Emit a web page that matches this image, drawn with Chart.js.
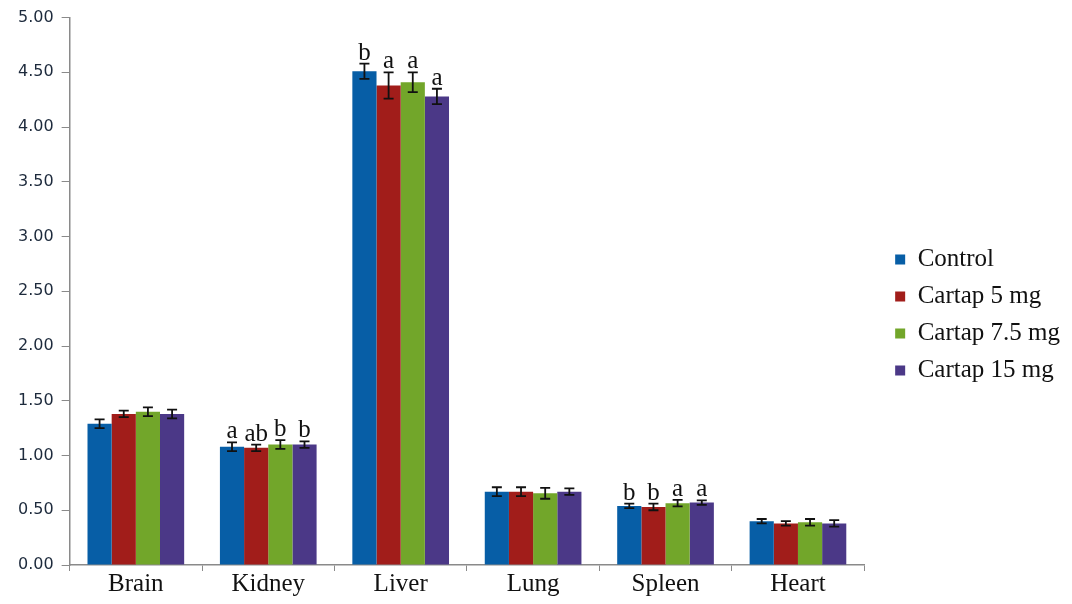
<!DOCTYPE html>
<html>
<head>
<meta charset="utf-8">
<script src="https://cdn.jsdelivr.net/npm/chart.js@4.4.1/dist/chart.umd.min.js"></script>
<style>
  html, body { margin: 0; padding: 0; background: #fff; }
  #wrap { width: 1072px; height: 604px; position: relative; }
</style>
</head>
<body>
<div id="wrap"><canvas id="organChart"></canvas></div>
<script>
// Organ weights by group
const organs = ['Brain', 'Kidney', 'Liver', 'Lung', 'Spleen', 'Heart'];
const groupNames = ['Control', 'Cartap 5 mg', 'Cartap 7.5 mg', 'Cartap 15 mg'];
const groupColors = ['#075ea6', '#a11d1a', '#72a62a', '#4b3887'];

const controlVals = [1.29, 1.08, 4.51, 0.67, 0.54, 0.40];
const cartap5Vals = [1.38, 1.07, 4.38, 0.67, 0.53, 0.38];
const cartap75Vals = [1.40, 1.10, 4.41, 0.655, 0.565, 0.39];
const cartap15Vals = [1.38, 1.10, 4.28, 0.67, 0.57, 0.38];

const controlErr = [0.04, 0.04, 0.07, 0.04, 0.02, 0.02];
const cartap5Err = [0.03, 0.03, 0.12, 0.04, 0.03, 0.02];
const cartap75Err = [0.04, 0.04, 0.09, 0.05, 0.03, 0.03];
const cartap15Err = [0.04, 0.03, 0.07, 0.03, 0.02, 0.03];

// significance letters (empty = none)
const controlSig = ['', 'a', 'b', '', 'b', ''];
const cartap5Sig = ['', 'ab', 'a', '', 'b', ''];
const cartap75Sig = ['', 'b', 'a', '', 'a', ''];
const cartap15Sig = ['', 'b', 'a', '', 'a', ''];

const yTicks = [0, 0.5, 1, 1.5, 2, 2.5, 3, 3.5, 4, 4.5, 5];

const allVals = [controlVals, cartap5Vals, cartap75Vals, cartap15Vals];
const allErr = [controlErr, cartap5Err, cartap75Err, cartap15Err];
const allSig = [controlSig, cartap5Sig, cartap75Sig, cartap15Sig];

const serif = '"Liberation Serif", "DejaVu Serif", serif';

// Error bars + letters
const errorBarPlugin = {
    id: 'errorBars',
    afterDatasetsDraw(chart) {
        const ctx = chart.ctx;
        const y = chart.scales.y;
        ctx.save();
        chart.data.datasets.forEach((ds, di) => {
            const meta = chart.getDatasetMeta(di);
            meta.data.forEach((bar, i) => {
                const v = ds.data[i];
                const e = allErr[di][i];
                const top = y.getPixelForValue(v + e);
                const bot = y.getPixelForValue(v - e);
                const x = bar.x;
                ctx.strokeStyle = '#111';
                ctx.lineWidth = 1.8;
                ctx.beginPath();
                ctx.moveTo(x, top); ctx.lineTo(x, bot);
                ctx.moveTo(x - 5, top); ctx.lineTo(x + 5, top);
                ctx.moveTo(x - 5, bot); ctx.lineTo(x + 5, bot);
                ctx.stroke();
                const s = allSig[di][i];
                if (s) {
                    ctx.fillStyle = '#111';
                    ctx.font = '25px ' + serif;
                    ctx.textAlign = 'center';
                    ctx.textBaseline = 'alphabetic';
                    ctx.fillText(s, x, top - 4);
                }
            });
        });
        ctx.restore();
    }
};

// Legend placement: reserve extra room to the right of the plot, keep items in place
const legendShift = {
    id: 'legendShift',
    afterInit(chart) {
        const lg = chart.legend;
        const origFit = lg.fit;
        lg.fit = function() {
            origFit.call(this);
            this.width += 11;
        };
    },
    afterLayout(chart) {
        const lg = chart.legend;
        lg.left += 19;
        lg.right += 19;
        lg.top += 10;
        lg.bottom += 10;
    }
};

new Chart(document.getElementById('organChart'), {
    type: 'bar',
    data: {
        labels: organs,
        datasets: groupNames.map((name, i) => ({
            label: name,
            data: allVals[i],
            backgroundColor: groupColors[i],
            borderWidth: 0,
            categoryPercentage: 0.73,
            barPercentage: 1.0
        }))
    },
    options: {
        responsive: true,
        maintainAspectRatio: false,
        animation: false,
        layout: { padding: { top: 13, left: 10, right: 10, bottom: 7 } },
        plugins: {
            tooltip: { enabled: false },
            legend: {
                position: 'right',
                labels: {
                    boxWidth: 10,
                    boxHeight: 10,
                    padding: 12,
                    color: '#111',
                    font: { family: serif, size: 25 }
                }
            }
        },
        scales: {
            x: {
                grid: {
                    display: true,
                    offset: true,
                    drawOnChartArea: false,
                    drawTicks: true,
                    tickLength: 6,
                    color: '#8a8a8a'
                },
                border: { color: '#8a8a8a', width: 1.5 },
                ticks: {
                    color: '#111',
                    padding: -2,
                    font: { family: serif, size: 25 }
                }
            },
            y: {
                min: 0,
                max: 5,
                afterBuildTicks(axis) { axis.ticks = yTicks.map(v => ({ value: v })); },
                grid: {
                    display: true,
                    drawOnChartArea: false,
                    drawTicks: true,
                    tickLength: 8,
                    color: '#8a8a8a'
                },
                border: { color: '#8a8a8a', width: 1.5 },
                ticks: {
                    color: '#1d2a3c',
                    padding: 8,
                    font: { family: '"DejaVu Sans", Verdana, sans-serif', size: 16 },
                    callback: v => Number(v).toFixed(2)
                }
            }
        }
    },
    plugins: [errorBarPlugin, legendShift]
});
</script>
</body>
</html>
